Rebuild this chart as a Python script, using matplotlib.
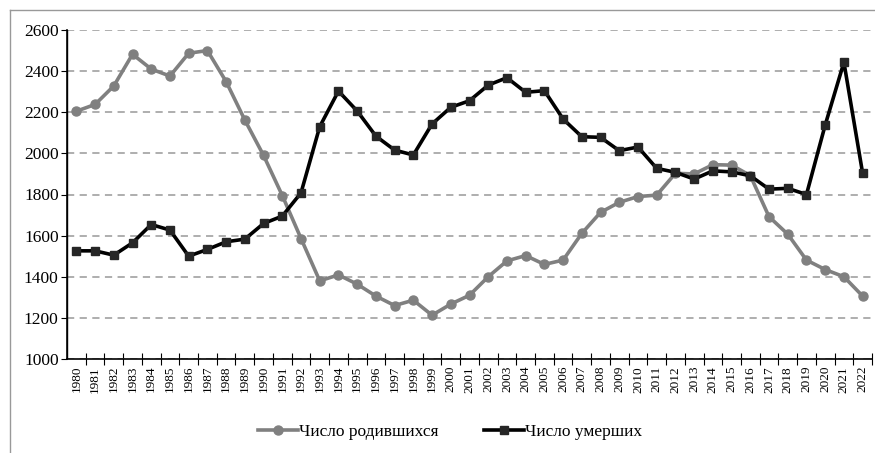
import matplotlib
matplotlib.use("Agg")
import matplotlib.pyplot as plt
from matplotlib.lines import Line2D

YEARS = [str(y) for y in range(1980, 2023)]

BIRTHS = [2205, 2238, 2328, 2482, 2410, 2376, 2487, 2500, 2349, 2162,
          1990, 1795, 1586, 1380, 1409, 1364, 1306, 1260, 1286, 1213,
          1267, 1310, 1400, 1477, 1503, 1460, 1481, 1611, 1713, 1762,
          1790, 1797, 1903, 1900, 1945, 1943, 1892, 1692, 1607, 1481,
          1435, 1400, 1306]

DEATHS = [1526, 1526, 1505, 1565, 1654, 1627, 1500, 1533, 1570, 1583,
          1659, 1695, 1808, 2130, 2303, 2206, 2084, 2016, 1992, 2143,
          2224, 2256, 2332, 2368, 2297, 2305, 2167, 2081, 2078, 2013,
          2031, 1927, 1908, 1875, 1915, 1910, 1891, 1826, 1830, 1800,
          2138, 2443, 1903]

LABELS = ["Число родившихся", "Число умерших"]

plt.rcParams['font.family'] = ['Liberation Serif', 'DejaVu Serif']

fig = plt.figure(figsize=(8.75, 4.53), dpi=100)
ax = fig.add_axes([67 / 875, 1 - 359 / 453, (872 - 67) / 875, (359 - 30) / 453])

x = list(range(len(YEARS)))
ax.plot(x, BIRTHS, color="#808080", lw=2.6, marker="o", ms=6.5,
        label=LABELS[0], zorder=3)
ax.plot(x, DEATHS, color="black", lw=2.6, marker="s", ms=5.5,
        mfc="#262626", mec="#262626", label=LABELS[1], zorder=4)

ax.set_xlim(-0.5, len(YEARS) - 0.5)
ax.set_ylim(1000, 2600)
ax.set_yticks(range(1000, 2601, 200))
ax.tick_params(axis="y", labelsize=12.5, length=4, direction="out", pad=2)

ax.set_xticks([i + 0.5 for i in x], minor=False)
ax.set_xticklabels([])
ax.set_xticks(x, minor=True)
ax.set_xticklabels(YEARS, minor=True, rotation=90, fontsize=9.5)
ax.tick_params(axis="x", which="major", direction="inout", length=8)
ax.tick_params(axis="x", which="minor", length=0, pad=5)
ax.axvline(-0.5, color="black", lw=1)

ax.grid(axis="y", color="#a8a8a8", linestyle=(0, (4, 3)), lw=1.3)
ax.set_axisbelow(True)
for s in ["top", "right"]:
    ax.spines[s].set_visible(False)
ax.spines["left"].set_linewidth(1.2)
ax.spines["bottom"].set_linewidth(1.2)

fig.legend(loc="center", bbox_to_anchor=(450 / 875, 1 - 432 / 453), ncol=2,
           frameon=False, fontsize=12.5, handlelength=2.3, handletextpad=0.05,
           columnspacing=2.6)

# outer frame (left and top edges visible)
fig.add_artist(Line2D([9.5 / 875, 9.5 / 875], [0, 1 - 10 / 453],
                      transform=fig.transFigure, color="#999999", lw=1))
fig.add_artist(Line2D([9.5 / 875, 1], [1 - 10 / 453, 1 - 10 / 453],
                      transform=fig.transFigure, color="#999999", lw=1))

fig.savefig("out.png", dpi=100)
